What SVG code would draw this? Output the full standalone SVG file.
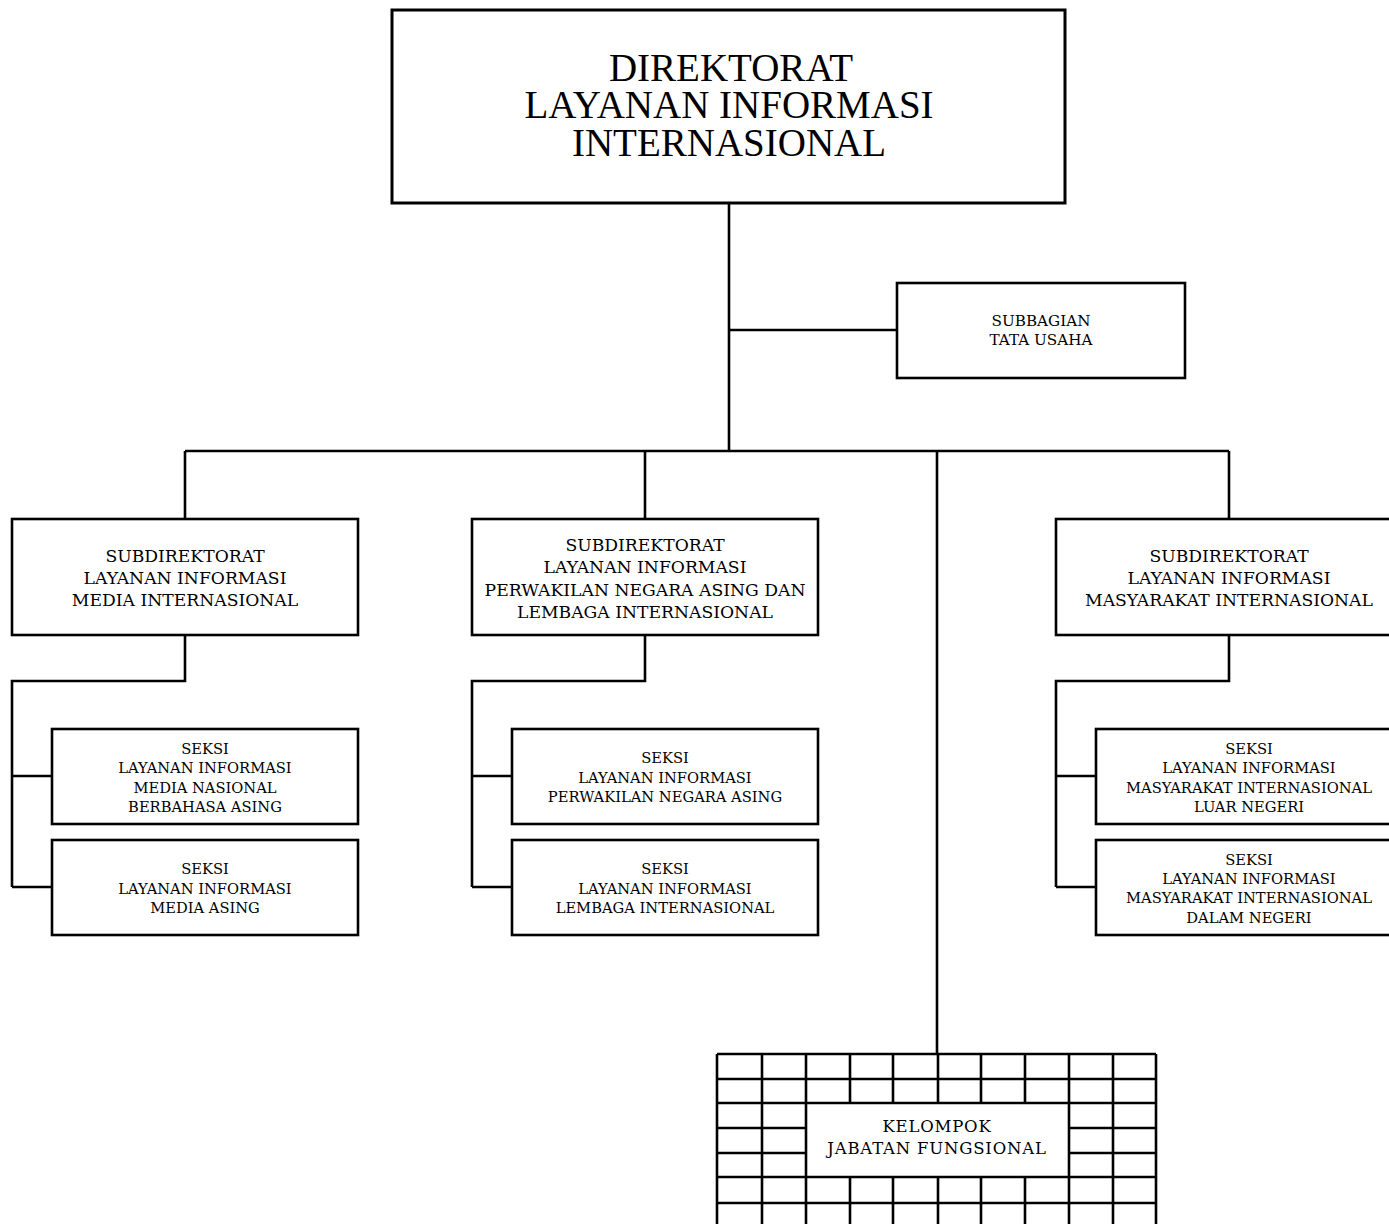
<svg xmlns="http://www.w3.org/2000/svg" width="1389" height="1224" viewBox="0 0 1389 1224">
<style>
.box{fill:#fff;stroke:#000;stroke-width:2.6}
.ln{fill:none;stroke:#000;stroke-width:2.6}
.t{font-family:"DejaVu Serif","Liberation Serif",serif;text-anchor:middle;fill:#000}
.title{font-family:"Liberation Serif",serif;font-size:39px;text-anchor:middle;fill:#000}
.sd{font-size:17.2px}
.sk{font-size:14.7px}
.gd{stroke:#000;stroke-width:2.6;fill:none}
</style>
<rect width="1389" height="1224" fill="#fff"/>
<g id="connectors" class="ln">
<path d="M729 203V451M729 330H897M185 451H1229M185 451V519M645 451V519M937 451V1054M1229 451V519"/>
<path d="M185 635V681H12V887M12 776H52M12 887H52"/>
<path d="M645 635V681H472V887M472 776H512M472 887H512"/>
<path d="M1229 635V681H1056V887M1056 776H1096M1056 887H1096"/>
</g>
<g id="direktorat">
<rect class="box" x="392" y="10" width="673" height="193" style="stroke-width:3"/>
<text class="title"><tspan x="731" y="81">DIREKTORAT</tspan><tspan x="729" y="118">LAYANAN INFORMASI</tspan><tspan x="729" y="156">INTERNASIONAL</tspan></text>
</g>
<g id="subbagian">
<rect class="box" x="897" y="283" width="288" height="95"/>
<text class="t" style="font-size:15.2px"><tspan x="1041" y="326">SUBBAGIAN</tspan><tspan x="1041" y="345">TATA USAHA</tspan></text>
</g>
<g id="subdit-media">
<rect class="box" x="12" y="519" width="346" height="116"/>
<text class="t sd"><tspan x="185" y="562">SUBDIREKTORAT</tspan><tspan x="185" y="584">LAYANAN INFORMASI</tspan><tspan x="185" y="606">MEDIA INTERNASIONAL</tspan></text>
</g>
<g id="subdit-perwakilan">
<rect class="box" x="472" y="519" width="346" height="116"/>
<text class="t sd"><tspan x="645" y="551">SUBDIREKTORAT</tspan><tspan x="645" y="573">LAYANAN INFORMASI</tspan><tspan x="645" y="596">PERWAKILAN NEGARA ASING DAN</tspan><tspan x="645" y="618">LEMBAGA INTERNASIONAL</tspan></text>
</g>
<g id="subdit-masyarakat">
<rect class="box" x="1056" y="519" width="346" height="116"/>
<text class="t sd"><tspan x="1229" y="562">SUBDIREKTORAT</tspan><tspan x="1229" y="584">LAYANAN INFORMASI</tspan><tspan x="1229" y="606">MASYARAKAT INTERNASIONAL</tspan></text>
</g>
<g id="seksi-media-nasional">
<rect class="box" x="52" y="729" width="306" height="95"/>
<text class="t sk"><tspan x="205" y="754">SEKSI</tspan><tspan x="205" y="773">LAYANAN INFORMASI</tspan><tspan x="205" y="793">MEDIA NASIONAL</tspan><tspan x="205" y="812">BERBAHASA ASING</tspan></text>
</g>
<g id="seksi-media-asing">
<rect class="box" x="52" y="840" width="306" height="95"/>
<text class="t sk"><tspan x="205" y="874">SEKSI</tspan><tspan x="205" y="894">LAYANAN INFORMASI</tspan><tspan x="205" y="913">MEDIA ASING</tspan></text>
</g>
<g id="seksi-perwakilan">
<rect class="box" x="512" y="729" width="306" height="95"/>
<text class="t sk"><tspan x="665" y="763">SEKSI</tspan><tspan x="665" y="783">LAYANAN INFORMASI</tspan><tspan x="665" y="802">PERWAKILAN NEGARA ASING</tspan></text>
</g>
<g id="seksi-lembaga">
<rect class="box" x="512" y="840" width="306" height="95"/>
<text class="t sk"><tspan x="665" y="874">SEKSI</tspan><tspan x="665" y="894">LAYANAN INFORMASI</tspan><tspan x="665" y="913">LEMBAGA INTERNASIONAL</tspan></text>
</g>
<g id="seksi-luar-negeri">
<rect class="box" x="1096" y="729" width="306" height="95"/>
<text class="t sk"><tspan x="1249" y="754">SEKSI</tspan><tspan x="1249" y="773">LAYANAN INFORMASI</tspan><tspan x="1249" y="793">MASYARAKAT INTERNASIONAL</tspan><tspan x="1249" y="812">LUAR NEGERI</tspan></text>
</g>
<g id="seksi-dalam-negeri">
<rect class="box" x="1096" y="840" width="306" height="95"/>
<text class="t sk"><tspan x="1249" y="865">SEKSI</tspan><tspan x="1249" y="884">LAYANAN INFORMASI</tspan><tspan x="1249" y="903">MASYARAKAT INTERNASIONAL</tspan><tspan x="1249" y="923">DALAM NEGERI</tspan></text>
</g>
<g id="kelompok-jabatan-fungsional">
<rect x="717" y="1054" width="439" height="190" fill="#fff" stroke="none"/>
<path class="gd" d="M717 1054V1240M1156 1054V1240M762 1054V1240M1113 1054V1240M806 1054V1240M1069 1054V1240M850 1054V1103M893 1054V1103M938 1054V1103M981 1054V1103M1025 1054V1103M850 1177V1240M893 1177V1240M938 1177V1240M981 1177V1240M1025 1177V1240M717 1054H1156M717 1079H1156M717 1103H1156M717 1177H1156M717 1203H1156M717 1228H1156M717 1128H806M717 1153H806M1069 1128H1156M1069 1153H1156"/>
<text class="t" style="font-size:16.5px;letter-spacing:0.8px"><tspan x="937" y="1132">KELOMPOK</tspan><tspan x="937" y="1154">JABATAN FUNGSIONAL</tspan></text>
</g>
</svg>
